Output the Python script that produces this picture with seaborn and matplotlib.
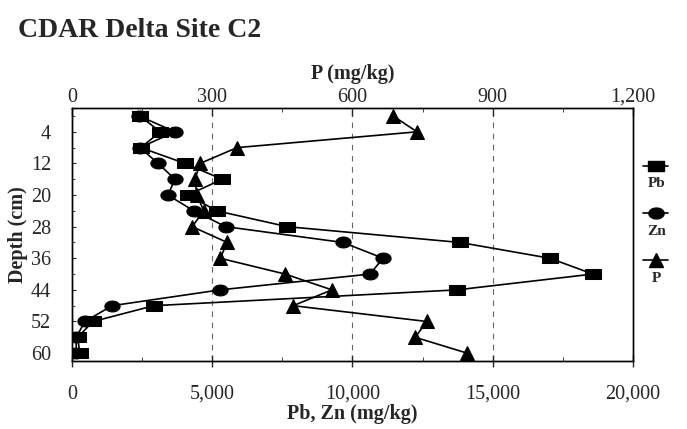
import numpy as np
import pandas as pd
import matplotlib
matplotlib.use("Agg")
import matplotlib.pyplot as plt
from matplotlib.lines import Line2D
from matplotlib.ticker import FixedLocator
import seaborn as sns

# Values (mg/kg), depth in cm
depth = [0, 4, 8, 12, 16, 20, 24, 28, 32, 36, 40, 44, 48, 52, 56, 60]
pb = [2420, 3150, 2450, 4030, 5350, 4140, 5160, 7670, 13830, 17040, 18570, 13720, 2920, 750, 200, 280]
zn = [2400, 3670, 2420, 3070, 3670, 3420, 4340, 5480, 9660, 11090, 10620, 5280, 1430, 460, 150, 150]
p = [687, 738, 353, 274, 263, 267, 282, 257, 332, 317, 456, 556, 473, 759, 734, 845]

series_names = ["Pb", "Zn", "P"]
depth_ticks = [4, 12, 20, 28, 36, 44, 52, 60]
metal_ticks = [0, 5000, 10000, 15000, 20000]
metal_labels = ["0", "5,000", "10,000", "15,000", "20,000"]
p_ticks = [0, 300, 600, 900, 1200]
p_labels = ["0", "300", "600", "900", "1,200"]

df = pd.DataFrame({"Depth": depth, "Pb": pb, "Zn": zn, "P": p})

sns.set_style("white")
plt.rcParams["font.family"] = ["Liberation Serif", "DejaVu Serif"]

fig = plt.figure(figsize=(6.87, 4.29), dpi=100)
ax = fig.add_axes([0.1048, 0.1585, 0.8166, 0.5895])

# wide marker shapes like the scanned chart
rect = [(-1.4, -1), (1.4, -1), (1.4, 1), (-1.4, 1), (-1.4, -1)]
t = np.linspace(0, 2 * np.pi, 40)
ellipse = list(zip(1.4 * np.cos(t), np.sin(t)))
markers = {"Pb": (rect, 11), "Zn": (ellipse, 11), "P": ("^", 10)}

line_kw = dict(color="black", linewidth=1.2, sort=False, estimator=None,
               markeredgecolor="black", markerfacecolor="black")
sns.lineplot(data=df, x="Pb", y="Depth", ax=ax, marker=rect, markersize=11, **line_kw)
sns.lineplot(data=df, x="Zn", y="Depth", ax=ax, marker=ellipse, markersize=11, **line_kw)

ax2 = ax.twiny()
sns.lineplot(data=df, x="P", y="Depth", ax=ax2, marker="^", markersize=10, **line_kw)

ax.set_xlim(0, 20000)
ax2.set_xlim(0, 1200)
ax.set_ylim(62, -2)

for g in metal_ticks[1:-1]:
    ax.axvline(g, color="#666666", linewidth=0.8, linestyle=(0, (5, 5)), zorder=0)

ax.set_xticks(metal_ticks)
ax.set_xticklabels(metal_labels)
ax.xaxis.set_minor_locator(FixedLocator([2500, 7500, 12500, 17500]))
ax2.set_xticks(p_ticks)
ax2.set_xticklabels(p_labels)
ax2.xaxis.set_minor_locator(FixedLocator([150, 450, 750, 1050]))
ax.set_yticks(depth_ticks)
ax.yaxis.set_minor_locator(FixedLocator(depth))

ax.tick_params(axis="x", which="major", direction="inout", length=8, width=1,
               labelsize=14.5, pad=13, bottom=True)
ax.tick_params(axis="x", which="minor", direction="in", length=3, bottom=True)
ax.tick_params(axis="y", which="major", direction="in", length=3, labelsize=14.5, pad=15, left=True)
ax.tick_params(axis="y", which="minor", direction="in", length=2, left=True)
ax2.tick_params(axis="x", which="major", direction="in", length=6, width=1,
                labelsize=14.5, pad=1, top=True)
ax2.tick_params(axis="x", which="minor", direction="in", length=3, top=True)

for a in (ax, ax2):
    for s in a.spines.values():
        s.set_color("black")
        s.set_linewidth(1)
    a.grid(False)

ax.set_xlabel("Pb, Zn (mg/kg)", fontsize=14.5, fontweight="bold", labelpad=0)
ax.set_ylabel("Depth (cm)", fontsize=14.5, fontweight="bold", labelpad=2)
ax2.set_xlabel("P (mg/kg)", fontsize=14.5, fontweight="bold", labelpad=6.5)

fig.text(0.026, 0.928, "CDAR Delta Site C2", fontsize=20, fontweight="bold", va="center", ha="left")

# legend keys at the right, each name written under its key
handles = [Line2D([], [], color="black", lw=1.2, marker=markers[n][0], markersize=markers[n][1])
           for n in series_names]
ax.legend(handles, [" "] * 3, loc="upper left", bbox_to_anchor=(1.018, 0.79),
          frameon=False, fontsize=10, handlelength=1.8, handletextpad=0,
          labelspacing=2.45, borderpad=0, borderaxespad=0)
for name, yy in zip(series_names, [0.702, 0.513, 0.326]):
    ax.text(1.042, yy, name, transform=ax.transAxes, ha="center", va="center",
            fontsize=11, fontweight="bold")

fig.savefig("out.png", dpi=100)
